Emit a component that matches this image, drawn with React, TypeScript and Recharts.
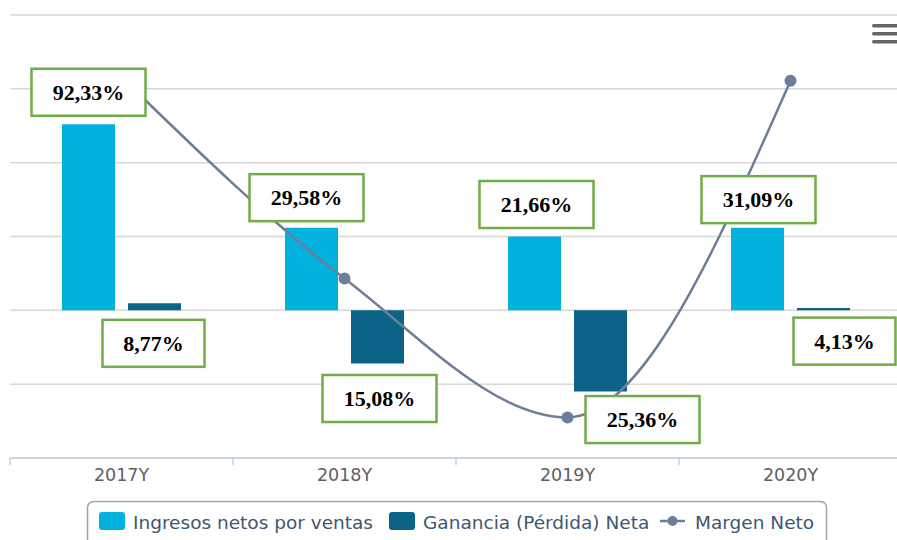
import React from "react";
import {
  ComposedChart,
  Bar,
  Line,
  XAxis,
  YAxis,
  CartesianGrid,
  LabelList,
} from "recharts";

const years = ["2017Y", "2018Y", "2019Y", "2020Y"];
const ingresos = [252, 112, 100, 112];
const ganancia = [9.5, -72, -110, 3];
const margen = [31.6, 4.3, -14.5, 31.1];
const ingresosLabels = ["92,33%", "29,58%", "21,66%", "31,09%"];
const gananciaLabels = ["8,77%", "15,08%", "25,36%", "4,13%"];
const seriesNames = ["Ingresos netos por ventas", "Ganancia (Pérdida) Neta", "Margen Neto"];
const leftTicks = [-200, -100, 0, 100, 200, 300, 400];

const data = years.map((year, i) => ({
  year,
  ingresos: ingresos[i],
  ganancia: ganancia[i],
  margen: margen[i],
  ingresosLabel: ingresosLabels[i],
  gananciaLabel: gananciaLabels[i],
}));

const LIGHT = "#00B2DD";
const DARK = "#0B6487";
const LINE = "#6E7E99";
const GREEN = "#70AD47";
const TEXT = "#3E576F";

// hand placed call-out boxes: [dx, dy] from the bar end
const LIGHT_NUDGE = [
  [-33, -32],
  [-38, -30],
  [-31, -32],
  [-32, -28],
];
const DARK_NUDGE = [
  [32, 40],
  [35, 35],
  [75, 28],
  [54, 33],
];

function makeCallout(nudge: number[][]) {
  return (props: any) => {
    const { x, y, value, index } = props;
    if (x == null || y == null) return null;
    const [dx, dy] = nudge[index] || [0, 0];
    const text = String(value);
    const w = text.length * 12 + 42;
    const h = 47;
    const cx = x + dx;
    const cy = y + dy;
    return (
      <g>
        <rect
          x={cx - w / 2}
          y={cy - h / 2}
          width={w}
          height={h}
          fill="#fff"
          stroke={GREEN}
          strokeWidth={2.5}
        />
        <text
          x={cx}
          y={cy}
          textAnchor="middle"
          dominantBaseline="central"
          fontFamily="'Liberation Serif', 'Times New Roman', serif"
          fontWeight="bold"
          fontSize={22}
          fill="#000"
        >
          {text}
        </text>
      </g>
    );
  };
}

function YearTick(props: any) {
  const { x, y, payload } = props;
  const half = payload && payload.offset ? payload.offset : 111.5;
  return (
    <g>
      <line x1={x - half} x2={x - half} y1={y} y2={y + 7} stroke="#C0D0E0" strokeWidth={1.5} />
      <text x={x} y={y + 23} textAnchor="middle" fontSize={17.5} fill="#606060" fontFamily="'DejaVu Sans', Verdana, sans-serif">
        {payload.value}
      </text>
    </g>
  );
}

export default function App() {
  return (
    <div
      style={{
        position: "absolute",
        left: 0,
        top: 0,
        width: 897,
        height: 540,
        overflow: "hidden",
        background: "#fff",
        fontFamily: "'DejaVu Sans', sans-serif",
      }}
    >
      <ComposedChart
        width={915}
        height={560}
        data={data}
        margin={{ top: 15, right: 13, bottom: 72, left: 10 }}
        barSize={53}
        barGap={13}
      >
        <CartesianGrid yAxisId="left" vertical={false} stroke="#D8D8D8" strokeWidth={1.5} />
        <XAxis
          dataKey="year"
          height={30}
          tickSize={0}
          tickMargin={0}
          tickLine={false}
          axisLine={{ stroke: "#C0D0E0", strokeWidth: 1.5 }}
          tick={<YearTick />}
          interval={0}
        />
        <YAxis yAxisId="left" hide domain={[-200, 400]} ticks={leftTicks} />
        <YAxis yAxisId="right" hide orientation="right" domain={[-20, 40]} />
        <Bar yAxisId="left" dataKey="ingresos" fill={LIGHT} isAnimationActive={false} />
        <Bar yAxisId="left" dataKey="ganancia" fill={DARK} isAnimationActive={false} />
        <Line
          yAxisId="right"
          type="monotone"
          dataKey="margen"
          stroke={LINE}
          strokeWidth={2.5}
          dot={{ r: 6, fill: LINE, stroke: LINE, strokeWidth: 0 }}
          activeDot={false}
          isAnimationActive={false}
        />
        <Line
          yAxisId="left"
          dataKey="ingresos"
          stroke="none"
          dot={false}
          activeDot={false}
          legendType="none"
          isAnimationActive={false}
        >
          <LabelList dataKey="ingresosLabel" content={makeCallout(LIGHT_NUDGE)} />
        </Line>
        <Line
          yAxisId="left"
          dataKey="ganancia"
          stroke="none"
          dot={false}
          activeDot={false}
          legendType="none"
          isAnimationActive={false}
        >
          <LabelList dataKey="gananciaLabel" content={makeCallout(DARK_NUDGE)} />
        </Line>
      </ComposedChart>

      <svg
        width={897}
        height={540}
        style={{ position: "absolute", left: 0, top: 0, pointerEvents: "none" }}
      >
        {/* export menu icon */}
        <rect x={872} y={24} width={30} height={3.5} rx={1.75} fill="#666" />
        <rect x={872} y={32} width={30} height={3.5} rx={1.75} fill="#666" />
        <rect x={872} y={40} width={30} height={3.5} rx={1.75} fill="#666" />

        {/* legend */}
        <rect x={87.5} y={501.5} width={739} height={60} rx={6} fill="#fff" stroke="#A5A5A5" strokeWidth={1.5} />
        <g fontFamily="'DejaVu Sans', Verdana, sans-serif" fontSize={18.5} fill={TEXT}>
          <rect x={99} y={512} width={26} height={18} rx={3} fill={LIGHT} />
          <text x={133} y={529}>{seriesNames[0]}</text>
          <rect x={389} y={512} width={26} height={18} rx={3} fill={DARK} />
          <text x={423} y={529}>{seriesNames[1]}</text>
          <line x1={660} x2={685} y1={521} y2={521} stroke={LINE} strokeWidth={2.5} />
          <circle cx={672.5} cy={521} r={5} fill={LINE} />
          <text x={695} y={529}>{seriesNames[2]}</text>
        </g>
      </svg>
    </div>
  );
}
